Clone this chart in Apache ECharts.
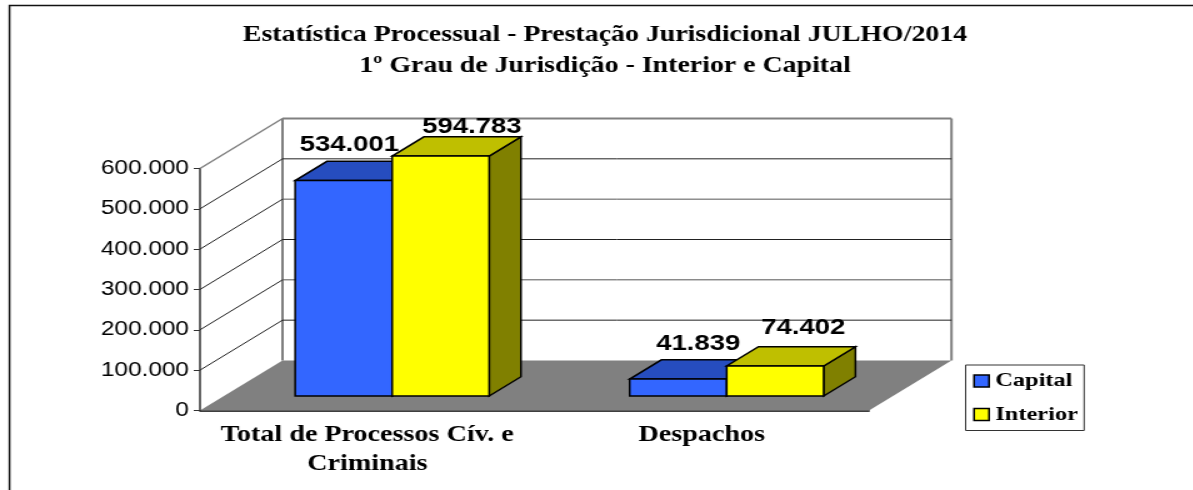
<!DOCTYPE html>
<html>
<head>
<meta charset="utf-8">
<title>Estatística Processual</title>
<script src="https://cdn.jsdelivr.net/npm/echarts@6/dist/echarts.min.js"></script>
<style>
  html, body { margin: 0; padding: 0; background: #fff; overflow: hidden; }
  /* the original picture is a chart stretched sideways, text included */
  #chart { height: 490px; transform-origin: 0 0; }
</style>
</head>
<body>
<div id="chart"></div>
<script>
const categories = ['Total de Processos Cív. e\nCriminais', 'Despachos'];
const capital = [534001, 41839];
const interior = [594783, 74402];
const yTicks = [0, 100000, 200000, 300000, 400000, 500000, 600000];
const seriesNames = ['Capital', 'Interior'];

const STRETCH = 1.25;
const WIDTH = 1193 / STRETCH;
const dom = document.getElementById('chart');
dom.style.width = WIDTH + 'px';
dom.style.transform = 'scaleX(' + STRETCH + ')';

// 3d look: how far the back wall sits from the front plane
const DEPTH_X = 66;
const DEPTH_Y = 50;
const BAR_NEAR = 0.29;
const BAR_FAR = 0.675;
const BAR_SHARE = 0.29;
const BAR_SHIFT = 0.8;
// label shift from the bar's top-back edge, [series][category]
const labelNudge = [[[4.5, -16], [16, -16]], [[25, -10], [22.5, -19]]];

const SERIF = '"Liberation Serif", serif';
const SANS = '"Liberation Sans", sans-serif';

const fmt = (v) => String(v).replace(/\B(?=(\d{3})+$)/g, '.');

const poly = (points, fill, stroke, width) => ({
  type: 'polygon',
  shape: { points },
  style: { fill, stroke: stroke || 'none', lineWidth: width || 0 },
});

const line = (a, b, stroke, width) => ({
  type: 'line',
  shape: { x1: a[0], y1: a[1], x2: b[0], y2: b[1] },
  style: { stroke, lineWidth: width },
});

// floor and back wall
function renderScene(params, api) {
  const left = api.coord([0, 0])[0] - api.size([1, 0])[0] / 2;
  const right = left + api.size([1, 0])[0] * categories.length;
  const y0 = api.coord([0, yTicks[0]])[1];
  const yTop = api.coord([0, yTicks[yTicks.length - 1]])[1];
  const bl = [left + DEPTH_X, y0 - DEPTH_Y];
  const br = [right + DEPTH_X, y0 - DEPTH_Y];
  const tl = [left + DEPTH_X, yTop - DEPTH_Y];
  const tr = [right + DEPTH_X, yTop - DEPTH_Y];
  return {
    type: 'group',
    children: [
      poly([[left, y0], [right, y0], br, bl], '#808080'),
      line(bl, tl, '#808080', 2),
      line(tl, tr, '#808080', 2),
      line(tr, br, '#808080', 2),
      line([left, yTop], tl, '#808080', 1.5),
    ],
  };
}

// one gridline: up the side wall, then along the back wall
function renderGrid(params, api) {
  const left = api.coord([0, 0])[0] - api.size([1, 0])[0] / 2;
  const right = left + api.size([1, 0])[0] * categories.length;
  const y = api.coord([0, api.value(0)])[1];
  const stroke = params.dataIndex % 2 ? '#555' : '#222';
  return {
    type: 'group',
    children: [
      line([left, y], [left + DEPTH_X, y - DEPTH_Y], '#222', 1),
      line([left + DEPTH_X, y - DEPTH_Y], [right + DEPTH_X, y - DEPTH_Y], stroke, 1),
    ],
  };
}

function barRenderer(seriesIndex, front, top, side) {
  return function (params, api) {
    const cat = api.value(0);
    const band = api.size([1, 0])[0];
    const w = band * BAR_SHARE;
    const cx = api.coord([cat, 0])[0];
    const y0 = api.coord([cat, 0])[1];
    const yV = api.coord([cat, api.value(1)])[1];
    const nx = DEPTH_X * BAR_NEAR;
    const ny = DEPTH_Y * BAR_NEAR;
    const fx = DEPTH_X * (BAR_FAR - BAR_NEAR);
    const fy = DEPTH_Y * (BAR_FAR - BAR_NEAR);
    const x1 = cx - w + seriesIndex * w + nx + BAR_SHIFT;
    const x2 = x1 + w;
    const yb = y0 - ny;
    const yt = yV - ny;
    const nudge = labelNudge[seriesIndex][cat];
    const edge = { stroke: '#000', width: 1.5 };
    return {
      type: 'group',
      children: [
        poly([[x2, yb], [x2 + fx, yb - fy], [x2 + fx, yt - fy], [x2, yt]], side, edge.stroke, edge.width),
        poly([[x1, yt], [x2, yt], [x2 + fx, yt - fy], [x1 + fx, yt - fy]], top, edge.stroke, edge.width),
        poly([[x1, yb], [x2, yb], [x2, yt], [x1, yt]], front, edge.stroke, edge.width),
        {
          type: 'text',
          x: (x1 + x2) / 2 + nudge[0],
          y: yt - fy + nudge[1],
          style: {
            text: fmt(api.value(1)),
            font: 'bold 22px ' + SANS,
            fill: '#000',
            align: 'center',
            verticalAlign: 'middle',
          },
        },
      ],
    };
  };
}

const chart = echarts.init(dom, null, { width: WIDTH, height: 490 });

chart.setOption({
  animation: false,
  backgroundColor: '#fff',
  title: {
    text: 'Estatística Processual - Prestação Jurisdicional JULHO/2014\n1º Grau de Jurisdição - Interior e Capital',
    left: 484,
    textAlign: 'center',
    top: 20,
    padding: 0,
    textStyle: { fontFamily: SERIF, fontWeight: 'bold', fontSize: 22.3, lineHeight: 31, color: '#000' },
  },
  legend: {
    data: seriesNames,
    orient: 'vertical',
    left: 772.5,
    top: 365,
    padding: [6, 5, 6, 6],
    itemGap: 13.5,
    itemWidth: 12,
    itemHeight: 12,
    icon: 'rect',
    borderColor: '#333',
    borderWidth: 1,
    backgroundColor: '#fff',
    itemStyle: { borderColor: '#000', borderWidth: 1.5 },
    textStyle: { fontFamily: SERIF, fontWeight: 'bold', fontSize: 19.5, color: '#000' },
  },
  grid: { left: 160, top: 168.5, width: 535.2, height: 242 },
  xAxis: {
    type: 'category',
    data: categories,
    axisLine: { lineStyle: { color: '#000', width: 1.5 } },
    axisTick: { length: 5, lineStyle: { color: '#000' } },
    axisLabel: {
      fontFamily: SERIF,
      fontWeight: 'bold',
      fontSize: 22.5,
      lineHeight: 29,
      color: '#000',
      margin: 10,
      interval: 0,
    },
  },
  yAxis: {
    type: 'value',
    min: yTicks[0],
    max: yTicks[yTicks.length - 1],
    interval: yTicks[1],
    axisLine: { show: true, lineStyle: { color: '#333', width: 1.5 } },
    axisTick: { show: true, length: 5, lineStyle: { color: '#333' } },
    axisLabel: { fontFamily: SANS, fontSize: 19.5, color: '#000', margin: 8.8, formatter: fmt },
    splitLine: { show: false },
  },
  graphic: [
    { type: 'polyline', silent: true, shape: { points: [[7.6, 490], [7.6, 5.5], [WIDTH, 5.5]] }, style: { fill: 'none', stroke: '#111', lineWidth: 1.5 } },
  ],
  series: [
    {
      type: 'custom',
      name: 'scene',
      renderItem: renderScene,
      data: [[0]],
      encode: { x: 0 },
      silent: true,
      z: 1,
      clip: false,
    },
    {
      type: 'custom',
      name: 'grid',
      renderItem: renderGrid,
      data: yTicks.slice(1, -1).map((v) => [v]),
      encode: { y: 0 },
      silent: true,
      z: 2,
      clip: false,
    },
    {
      type: 'custom',
      name: seriesNames[0],
      renderItem: barRenderer(0, '#3366FF', '#264DBF', '#1A3380'),
      data: capital.map((v, i) => [i, v]),
      encode: { x: 0, y: 1 },
      itemStyle: { color: '#3366FF' },
      z: 3,
      clip: false,
    },
    {
      type: 'custom',
      name: seriesNames[1],
      renderItem: barRenderer(1, '#FFFF00', '#BFBF00', '#808000'),
      data: interior.map((v, i) => [i, v]),
      encode: { x: 0, y: 1 },
      itemStyle: { color: '#FFFF00' },
      z: 4,
      clip: false,
    },
  ],
});
</script>
</body>
</html>
